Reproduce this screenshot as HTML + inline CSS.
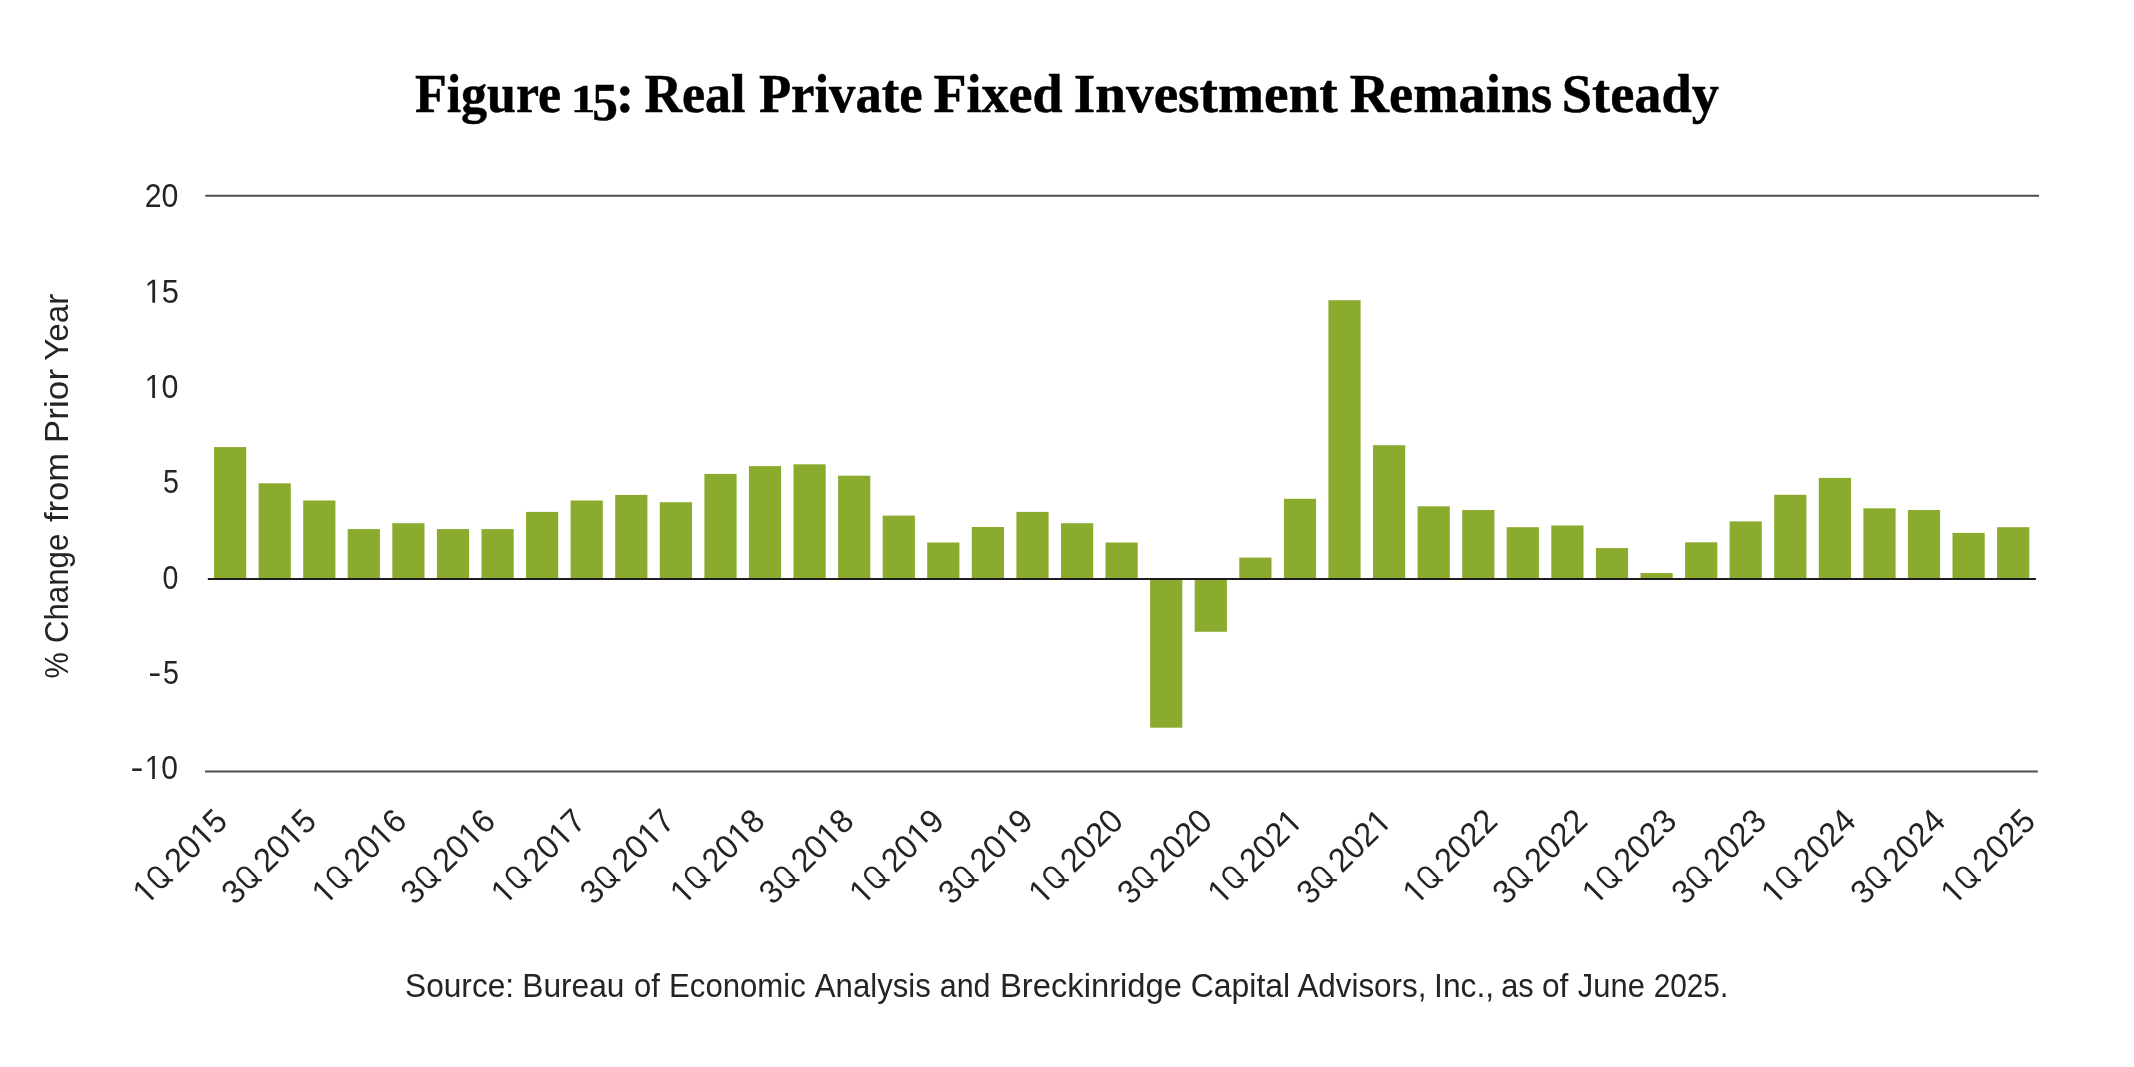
<!DOCTYPE html>
<html><head><meta charset="utf-8">
<style>
html,body{margin:0;padding:0;background:#fff;}
body{width:2134px;height:1067px;overflow:hidden;}
svg{display:block;will-change:transform;}
.ax{font-family:"Liberation Sans",sans-serif;font-size:33.5px;fill:#242424;}
.title{font-family:"Liberation Serif",serif;font-weight:bold;font-size:55px;fill:#000;stroke:#000;stroke-width:0.5px;}
.h{fill:none;stroke:none}.qs{fill:none;stroke:#242424;stroke-width:2.4px}.ov{fill:#242424}
</style></head><body>
<svg width="2134" height="1067" viewBox="0 0 2134 1067">
<rect width="2134" height="1067" fill="#fff"/>
<g>
<text x="414.94" y="111.6" class="title" textLength="146.20" lengthAdjust="spacingAndGlyphs">Figure</text>
<text x="571.02" y="111.6" class="title" style="font-size:39.5px" textLength="24.10" lengthAdjust="spacingAndGlyphs">1</text>
<text x="592.23" y="120.0" class="title" style="font-size:52px" textLength="25.67" lengthAdjust="spacingAndGlyphs">5</text>
<text x="615.75" y="111.6" class="title" textLength="18.50" lengthAdjust="spacingAndGlyphs">:</text>
<text x="644.46" y="111.6" class="title" textLength="101.08" lengthAdjust="spacingAndGlyphs">Real</text>
<text x="758.90" y="111.6" class="title" textLength="163.75" lengthAdjust="spacingAndGlyphs">Private</text>
<text x="933.38" y="111.6" class="title" textLength="129.20" lengthAdjust="spacingAndGlyphs">Fixed</text>
<text x="1073.87" y="111.6" class="title" textLength="263.68" lengthAdjust="spacingAndGlyphs">Investment</text>
<text x="1349.78" y="111.6" class="title" textLength="202.49" lengthAdjust="spacingAndGlyphs">Remains</text>
<text x="1561.78" y="111.6" class="title" textLength="157.26" lengthAdjust="spacingAndGlyphs">Steady</text>
</g>
<line x1="205.3" x2="2039.1" y1="195.85" y2="195.85" stroke="#4d4d4f" stroke-width="2"/>
<line x1="205.0" x2="2037.8" y1="771.45" y2="771.45" stroke="#4d4d4f" stroke-width="2"/>
<g fill="#8aab2e">
<rect x="214.0" y="447.1" width="32.2" height="131.9"/>
<rect x="258.6" y="483.3" width="32.2" height="95.7"/>
<rect x="303.2" y="500.5" width="32.2" height="78.5"/>
<rect x="347.7" y="529.1" width="32.2" height="49.9"/>
<rect x="392.3" y="523.2" width="32.2" height="55.8"/>
<rect x="436.9" y="529.1" width="32.2" height="49.9"/>
<rect x="481.5" y="529.1" width="32.2" height="49.9"/>
<rect x="526.0" y="511.9" width="32.2" height="67.1"/>
<rect x="570.6" y="500.5" width="32.2" height="78.5"/>
<rect x="615.2" y="494.9" width="32.2" height="84.1"/>
<rect x="659.8" y="502.2" width="32.2" height="76.8"/>
<rect x="704.4" y="473.9" width="32.2" height="105.1"/>
<rect x="748.9" y="466.1" width="32.2" height="112.9"/>
<rect x="793.5" y="464.3" width="32.2" height="114.7"/>
<rect x="838.1" y="475.7" width="32.2" height="103.3"/>
<rect x="882.7" y="515.6" width="32.2" height="63.4"/>
<rect x="927.2" y="542.5" width="32.2" height="36.5"/>
<rect x="971.8" y="527.0" width="32.2" height="52.0"/>
<rect x="1016.4" y="511.9" width="32.2" height="67.1"/>
<rect x="1061.0" y="523.2" width="32.2" height="55.8"/>
<rect x="1105.5" y="542.5" width="32.2" height="36.5"/>
<rect x="1150.1" y="579.0" width="32.2" height="148.7"/>
<rect x="1194.7" y="579.0" width="32.2" height="52.8"/>
<rect x="1239.3" y="557.6" width="32.2" height="21.4"/>
<rect x="1283.9" y="498.8" width="32.2" height="80.2"/>
<rect x="1328.4" y="300.2" width="32.2" height="278.8"/>
<rect x="1373.0" y="445.2" width="32.2" height="133.8"/>
<rect x="1417.6" y="506.3" width="32.2" height="72.7"/>
<rect x="1462.2" y="510.0" width="32.2" height="69.0"/>
<rect x="1506.7" y="527.2" width="32.2" height="51.8"/>
<rect x="1551.3" y="525.5" width="32.2" height="53.5"/>
<rect x="1595.9" y="548.1" width="32.2" height="30.9"/>
<rect x="1640.5" y="573.0" width="32.2" height="6.0"/>
<rect x="1685.1" y="542.3" width="32.2" height="36.7"/>
<rect x="1729.6" y="521.4" width="32.2" height="57.6"/>
<rect x="1774.2" y="494.8" width="32.2" height="84.2"/>
<rect x="1818.8" y="477.9" width="32.2" height="101.1"/>
<rect x="1863.4" y="508.3" width="32.2" height="70.7"/>
<rect x="1907.9" y="510.0" width="32.2" height="69.0"/>
<rect x="1952.5" y="532.9" width="32.2" height="46.1"/>
<rect x="1997.1" y="527.2" width="32.2" height="51.8"/>
</g>
<line x1="207.8" x2="2035.9" y1="579" y2="579" stroke="#1e1e20" stroke-width="2"/>
<g>
<g transform="translate(178.42,207.1)" class="ov"><text text-anchor="end" class="ax" textLength="33.70" lengthAdjust="spacingAndGlyphs">20</text></g>
<g transform="translate(178.96,302.8)" class="ov"><text text-anchor="end" class="ax" textLength="34.39" lengthAdjust="spacingAndGlyphs"><tspan class="h">1</tspan>5</text><path d="M515 0V1237L197 1010V1180L530 1409H696V0Z" transform="translate(-34.39,0) scale(0.01510,-0.01636)"/></g>
<g transform="translate(178.43,398.0)" class="ov"><text text-anchor="end" class="ax" textLength="33.82" lengthAdjust="spacingAndGlyphs"><tspan class="h">1</tspan>0</text><path d="M515 0V1237L197 1010V1180L530 1409H696V0Z" transform="translate(-33.82,0) scale(0.01485,-0.01636)"/></g>
<g transform="translate(178.84,492.8)" class="ov"><text text-anchor="end" class="ax" textLength="15.94" lengthAdjust="spacingAndGlyphs">5</text></g>
<g transform="translate(178.25,588.7)" class="ov"><text text-anchor="end" class="ax" textLength="15.87" lengthAdjust="spacingAndGlyphs">0</text></g>
<g transform="translate(161.34,683.8)" class="ov"><text text-anchor="end" class="ax" textLength="13.07" lengthAdjust="spacingAndGlyphs">-</text></g>
<g transform="translate(178.84,683.8)" class="ov"><text text-anchor="end" class="ax" textLength="15.94" lengthAdjust="spacingAndGlyphs">5</text></g>
<g transform="translate(143.32,779.0)" class="ov"><text text-anchor="end" class="ax" textLength="12.93" lengthAdjust="spacingAndGlyphs">-</text></g>
<g transform="translate(178.04,779.0)" class="ov"><text text-anchor="end" class="ax" textLength="33.37" lengthAdjust="spacingAndGlyphs"><tspan class="h">1</tspan>0</text><path d="M515 0V1237L197 1010V1180L530 1409H696V0Z" transform="translate(-33.37,0) scale(0.01465,-0.01636)"/></g>
</g>
<g>
<g transform="translate(229.27,823.1) rotate(-45)" class="ov"><text text-anchor="end" class="ax" textLength="117.15" lengthAdjust="spacingAndGlyphs"><tspan class="h">1</tspan><tspan class="h" style="font-size:23.95px">Q</tspan> 20<tspan class="h">1</tspan>5</text><path d="M515 0V1237L197 1010V1180L530 1409H696V0Z" transform="translate(-117.15,0) scale(0.01582,-0.01636)"/><rect x="-95.06" y="-22.70" width="12.9" height="21.8" rx="6.1" class="qs"/><line x1="-87.51" y1="-6.80" x2="-80.06" y2="0.65" class="qs"/><path d="M515 0V1237L197 1010V1180L530 1409H696V0Z" transform="translate(-36.05,0) scale(0.01582,-0.01636)"/></g>
<g transform="translate(318.17,823.1) rotate(-45)" class="ov"><text text-anchor="end" class="ax" textLength="117.15" lengthAdjust="spacingAndGlyphs">3<tspan class="h" style="font-size:23.95px">Q</tspan> 20<tspan class="h">1</tspan>5</text><rect x="-95.06" y="-22.70" width="12.9" height="21.8" rx="6.1" class="qs"/><line x1="-87.51" y1="-6.80" x2="-80.06" y2="0.65" class="qs"/><path d="M515 0V1237L197 1010V1180L530 1409H696V0Z" transform="translate(-36.05,0) scale(0.01582,-0.01636)"/></g>
<g transform="translate(408.42,823.1) rotate(-45)" class="ov"><text text-anchor="end" class="ax" textLength="117.15" lengthAdjust="spacingAndGlyphs"><tspan class="h">1</tspan><tspan class="h" style="font-size:23.95px">Q</tspan> 20<tspan class="h">1</tspan>6</text><path d="M515 0V1237L197 1010V1180L530 1409H696V0Z" transform="translate(-117.15,0) scale(0.01582,-0.01636)"/><rect x="-95.06" y="-22.70" width="12.9" height="21.8" rx="6.1" class="qs"/><line x1="-87.51" y1="-6.80" x2="-80.06" y2="0.65" class="qs"/><path d="M515 0V1237L197 1010V1180L530 1409H696V0Z" transform="translate(-36.05,0) scale(0.01582,-0.01636)"/></g>
<g transform="translate(497.32,823.1) rotate(-45)" class="ov"><text text-anchor="end" class="ax" textLength="117.15" lengthAdjust="spacingAndGlyphs">3<tspan class="h" style="font-size:23.95px">Q</tspan> 20<tspan class="h">1</tspan>6</text><rect x="-95.06" y="-22.70" width="12.9" height="21.8" rx="6.1" class="qs"/><line x1="-87.51" y1="-6.80" x2="-80.06" y2="0.65" class="qs"/><path d="M515 0V1237L197 1010V1180L530 1409H696V0Z" transform="translate(-36.05,0) scale(0.01582,-0.01636)"/></g>
<g transform="translate(587.57,823.1) rotate(-45)" class="ov"><text text-anchor="end" class="ax" textLength="117.15" lengthAdjust="spacingAndGlyphs"><tspan class="h">1</tspan><tspan class="h" style="font-size:23.95px">Q</tspan> 20<tspan class="h">1</tspan>7</text><path d="M515 0V1237L197 1010V1180L530 1409H696V0Z" transform="translate(-117.15,0) scale(0.01582,-0.01636)"/><rect x="-95.06" y="-22.70" width="12.9" height="21.8" rx="6.1" class="qs"/><line x1="-87.51" y1="-6.80" x2="-80.06" y2="0.65" class="qs"/><path d="M515 0V1237L197 1010V1180L530 1409H696V0Z" transform="translate(-36.05,0) scale(0.01582,-0.01636)"/></g>
<g transform="translate(676.47,823.1) rotate(-45)" class="ov"><text text-anchor="end" class="ax" textLength="117.15" lengthAdjust="spacingAndGlyphs">3<tspan class="h" style="font-size:23.95px">Q</tspan> 20<tspan class="h">1</tspan>7</text><rect x="-95.06" y="-22.70" width="12.9" height="21.8" rx="6.1" class="qs"/><line x1="-87.51" y1="-6.80" x2="-80.06" y2="0.65" class="qs"/><path d="M515 0V1237L197 1010V1180L530 1409H696V0Z" transform="translate(-36.05,0) scale(0.01582,-0.01636)"/></g>
<g transform="translate(766.72,823.1) rotate(-45)" class="ov"><text text-anchor="end" class="ax" textLength="117.15" lengthAdjust="spacingAndGlyphs"><tspan class="h">1</tspan><tspan class="h" style="font-size:23.95px">Q</tspan> 20<tspan class="h">1</tspan>8</text><path d="M515 0V1237L197 1010V1180L530 1409H696V0Z" transform="translate(-117.15,0) scale(0.01582,-0.01636)"/><rect x="-95.06" y="-22.70" width="12.9" height="21.8" rx="6.1" class="qs"/><line x1="-87.51" y1="-6.80" x2="-80.06" y2="0.65" class="qs"/><path d="M515 0V1237L197 1010V1180L530 1409H696V0Z" transform="translate(-36.05,0) scale(0.01582,-0.01636)"/></g>
<g transform="translate(855.62,823.1) rotate(-45)" class="ov"><text text-anchor="end" class="ax" textLength="117.15" lengthAdjust="spacingAndGlyphs">3<tspan class="h" style="font-size:23.95px">Q</tspan> 20<tspan class="h">1</tspan>8</text><rect x="-95.06" y="-22.70" width="12.9" height="21.8" rx="6.1" class="qs"/><line x1="-87.51" y1="-6.80" x2="-80.06" y2="0.65" class="qs"/><path d="M515 0V1237L197 1010V1180L530 1409H696V0Z" transform="translate(-36.05,0) scale(0.01582,-0.01636)"/></g>
<g transform="translate(945.87,823.1) rotate(-45)" class="ov"><text text-anchor="end" class="ax" textLength="117.15" lengthAdjust="spacingAndGlyphs"><tspan class="h">1</tspan><tspan class="h" style="font-size:23.95px">Q</tspan> 20<tspan class="h">1</tspan>9</text><path d="M515 0V1237L197 1010V1180L530 1409H696V0Z" transform="translate(-117.15,0) scale(0.01582,-0.01636)"/><rect x="-95.06" y="-22.70" width="12.9" height="21.8" rx="6.1" class="qs"/><line x1="-87.51" y1="-6.80" x2="-80.06" y2="0.65" class="qs"/><path d="M515 0V1237L197 1010V1180L530 1409H696V0Z" transform="translate(-36.05,0) scale(0.01582,-0.01636)"/></g>
<g transform="translate(1034.77,823.1) rotate(-45)" class="ov"><text text-anchor="end" class="ax" textLength="117.15" lengthAdjust="spacingAndGlyphs">3<tspan class="h" style="font-size:23.95px">Q</tspan> 20<tspan class="h">1</tspan>9</text><rect x="-95.06" y="-22.70" width="12.9" height="21.8" rx="6.1" class="qs"/><line x1="-87.51" y1="-6.80" x2="-80.06" y2="0.65" class="qs"/><path d="M515 0V1237L197 1010V1180L530 1409H696V0Z" transform="translate(-36.05,0) scale(0.01582,-0.01636)"/></g>
<g transform="translate(1125.02,823.1) rotate(-45)" class="ov"><text text-anchor="end" class="ax" textLength="117.15" lengthAdjust="spacingAndGlyphs"><tspan class="h">1</tspan><tspan class="h" style="font-size:23.95px">Q</tspan> 2020</text><path d="M515 0V1237L197 1010V1180L530 1409H696V0Z" transform="translate(-117.15,0) scale(0.01582,-0.01636)"/><rect x="-95.06" y="-22.70" width="12.9" height="21.8" rx="6.1" class="qs"/><line x1="-87.51" y1="-6.80" x2="-80.06" y2="0.65" class="qs"/></g>
<g transform="translate(1213.92,823.1) rotate(-45)" class="ov"><text text-anchor="end" class="ax" textLength="117.15" lengthAdjust="spacingAndGlyphs">3<tspan class="h" style="font-size:23.95px">Q</tspan> 2020</text><rect x="-95.06" y="-22.70" width="12.9" height="21.8" rx="6.1" class="qs"/><line x1="-87.51" y1="-6.80" x2="-80.06" y2="0.65" class="qs"/></g>
<g transform="translate(1304.17,823.1) rotate(-45)" class="ov"><text text-anchor="end" class="ax" textLength="117.15" lengthAdjust="spacingAndGlyphs"><tspan class="h">1</tspan><tspan class="h" style="font-size:23.95px">Q</tspan> 202<tspan class="h">1</tspan></text><path d="M515 0V1237L197 1010V1180L530 1409H696V0Z" transform="translate(-117.15,0) scale(0.01582,-0.01636)"/><rect x="-95.06" y="-22.70" width="12.9" height="21.8" rx="6.1" class="qs"/><line x1="-87.51" y1="-6.80" x2="-80.06" y2="0.65" class="qs"/><path d="M515 0V1237L197 1010V1180L530 1409H696V0Z" transform="translate(-18.02,0) scale(0.01582,-0.01636)"/></g>
<g transform="translate(1393.07,823.1) rotate(-45)" class="ov"><text text-anchor="end" class="ax" textLength="117.15" lengthAdjust="spacingAndGlyphs">3<tspan class="h" style="font-size:23.95px">Q</tspan> 202<tspan class="h">1</tspan></text><rect x="-95.06" y="-22.70" width="12.9" height="21.8" rx="6.1" class="qs"/><line x1="-87.51" y1="-6.80" x2="-80.06" y2="0.65" class="qs"/><path d="M515 0V1237L197 1010V1180L530 1409H696V0Z" transform="translate(-18.02,0) scale(0.01582,-0.01636)"/></g>
<g transform="translate(1499.27,823.1) rotate(-45)" class="ov"><text text-anchor="end" class="ax" textLength="117.15" lengthAdjust="spacingAndGlyphs"><tspan class="h">1</tspan><tspan class="h" style="font-size:23.95px">Q</tspan> 2022</text><path d="M515 0V1237L197 1010V1180L530 1409H696V0Z" transform="translate(-117.15,0) scale(0.01582,-0.01636)"/><rect x="-95.06" y="-22.70" width="12.9" height="21.8" rx="6.1" class="qs"/><line x1="-87.51" y1="-6.80" x2="-80.06" y2="0.65" class="qs"/></g>
<g transform="translate(1589.17,823.1) rotate(-45)" class="ov"><text text-anchor="end" class="ax" textLength="117.15" lengthAdjust="spacingAndGlyphs">3<tspan class="h" style="font-size:23.95px">Q</tspan> 2022</text><rect x="-95.06" y="-22.70" width="12.9" height="21.8" rx="6.1" class="qs"/><line x1="-87.51" y1="-6.80" x2="-80.06" y2="0.65" class="qs"/></g>
<g transform="translate(1678.57,823.1) rotate(-45)" class="ov"><text text-anchor="end" class="ax" textLength="117.15" lengthAdjust="spacingAndGlyphs"><tspan class="h">1</tspan><tspan class="h" style="font-size:23.95px">Q</tspan> 2023</text><path d="M515 0V1237L197 1010V1180L530 1409H696V0Z" transform="translate(-117.15,0) scale(0.01582,-0.01636)"/><rect x="-95.06" y="-22.70" width="12.9" height="21.8" rx="6.1" class="qs"/><line x1="-87.51" y1="-6.80" x2="-80.06" y2="0.65" class="qs"/></g>
<g transform="translate(1768.17,823.1) rotate(-45)" class="ov"><text text-anchor="end" class="ax" textLength="117.15" lengthAdjust="spacingAndGlyphs">3<tspan class="h" style="font-size:23.95px">Q</tspan> 2023</text><rect x="-95.06" y="-22.70" width="12.9" height="21.8" rx="6.1" class="qs"/><line x1="-87.51" y1="-6.80" x2="-80.06" y2="0.65" class="qs"/></g>
<g transform="translate(1857.87,823.1) rotate(-45)" class="ov"><text text-anchor="end" class="ax" textLength="117.15" lengthAdjust="spacingAndGlyphs"><tspan class="h">1</tspan><tspan class="h" style="font-size:23.95px">Q</tspan> 2024</text><path d="M515 0V1237L197 1010V1180L530 1409H696V0Z" transform="translate(-117.15,0) scale(0.01582,-0.01636)"/><rect x="-95.06" y="-22.70" width="12.9" height="21.8" rx="6.1" class="qs"/><line x1="-87.51" y1="-6.80" x2="-80.06" y2="0.65" class="qs"/></g>
<g transform="translate(1947.17,823.1) rotate(-45)" class="ov"><text text-anchor="end" class="ax" textLength="117.15" lengthAdjust="spacingAndGlyphs">3<tspan class="h" style="font-size:23.95px">Q</tspan> 2024</text><rect x="-95.06" y="-22.70" width="12.9" height="21.8" rx="6.1" class="qs"/><line x1="-87.51" y1="-6.80" x2="-80.06" y2="0.65" class="qs"/></g>
<g transform="translate(2037.17,823.1) rotate(-45)" class="ov"><text text-anchor="end" class="ax" textLength="117.15" lengthAdjust="spacingAndGlyphs"><tspan class="h">1</tspan><tspan class="h" style="font-size:23.95px">Q</tspan> 2025</text><path d="M515 0V1237L197 1010V1180L530 1409H696V0Z" transform="translate(-117.15,0) scale(0.01582,-0.01636)"/><rect x="-95.06" y="-22.70" width="12.9" height="21.8" rx="6.1" class="qs"/><line x1="-87.51" y1="-6.80" x2="-80.06" y2="0.65" class="qs"/></g>
</g>
<g transform="translate(68,1000) rotate(-90)">
<text x="321.50" y="0" class="ax" textLength="26.28" lengthAdjust="spacingAndGlyphs">%</text>
<text x="356.94" y="0" class="ax" textLength="109.34" lengthAdjust="spacingAndGlyphs">Change</text>
<text x="477.96" y="0" class="ax" textLength="69.05" lengthAdjust="spacingAndGlyphs">from</text>
<text x="556.89" y="0" class="ax" textLength="74.29" lengthAdjust="spacingAndGlyphs">Prior</text>
<text x="639.29" y="0" class="ax" textLength="66.99" lengthAdjust="spacingAndGlyphs">Year</text>
</g>
<g>
<text x="405.03" y="996.8" class="ax" textLength="109.16" lengthAdjust="spacingAndGlyphs">Source:</text>
<text x="522.25" y="996.8" class="ax" textLength="102.21" lengthAdjust="spacingAndGlyphs">Bureau</text>
<text x="634.01" y="996.8" class="ax" textLength="25.82" lengthAdjust="spacingAndGlyphs">of</text>
<text x="669.06" y="996.8" class="ax" textLength="136.73" lengthAdjust="spacingAndGlyphs">Economic</text>
<text x="814.86" y="996.8" class="ax" textLength="115.87" lengthAdjust="spacingAndGlyphs">Analysis</text>
<text x="939.75" y="996.8" class="ax" textLength="50.73" lengthAdjust="spacingAndGlyphs">and</text>
<text x="999.93" y="996.8" class="ax" textLength="182.10" lengthAdjust="spacingAndGlyphs">Breckinridge</text>
<text x="1190.79" y="996.8" class="ax" textLength="99.42" lengthAdjust="spacingAndGlyphs">Capital</text>
<text x="1297.43" y="996.8" class="ax" textLength="128.99" lengthAdjust="spacingAndGlyphs">Advisors,</text>
<text x="1434.08" y="996.8" class="ax" textLength="60.08" lengthAdjust="spacingAndGlyphs">Inc.,</text>
<text x="1501.16" y="996.8" class="ax" textLength="32.46" lengthAdjust="spacingAndGlyphs">as</text>
<text x="1542.00" y="996.8" class="ax" textLength="26.43" lengthAdjust="spacingAndGlyphs">of</text>
<text x="1577.87" y="996.8" class="ax" textLength="66.99" lengthAdjust="spacingAndGlyphs">June</text>
<text x="1653.66" y="996.8" class="ax" textLength="74.56" lengthAdjust="spacingAndGlyphs">2025.</text>
</g>
</svg>
</body></html>
